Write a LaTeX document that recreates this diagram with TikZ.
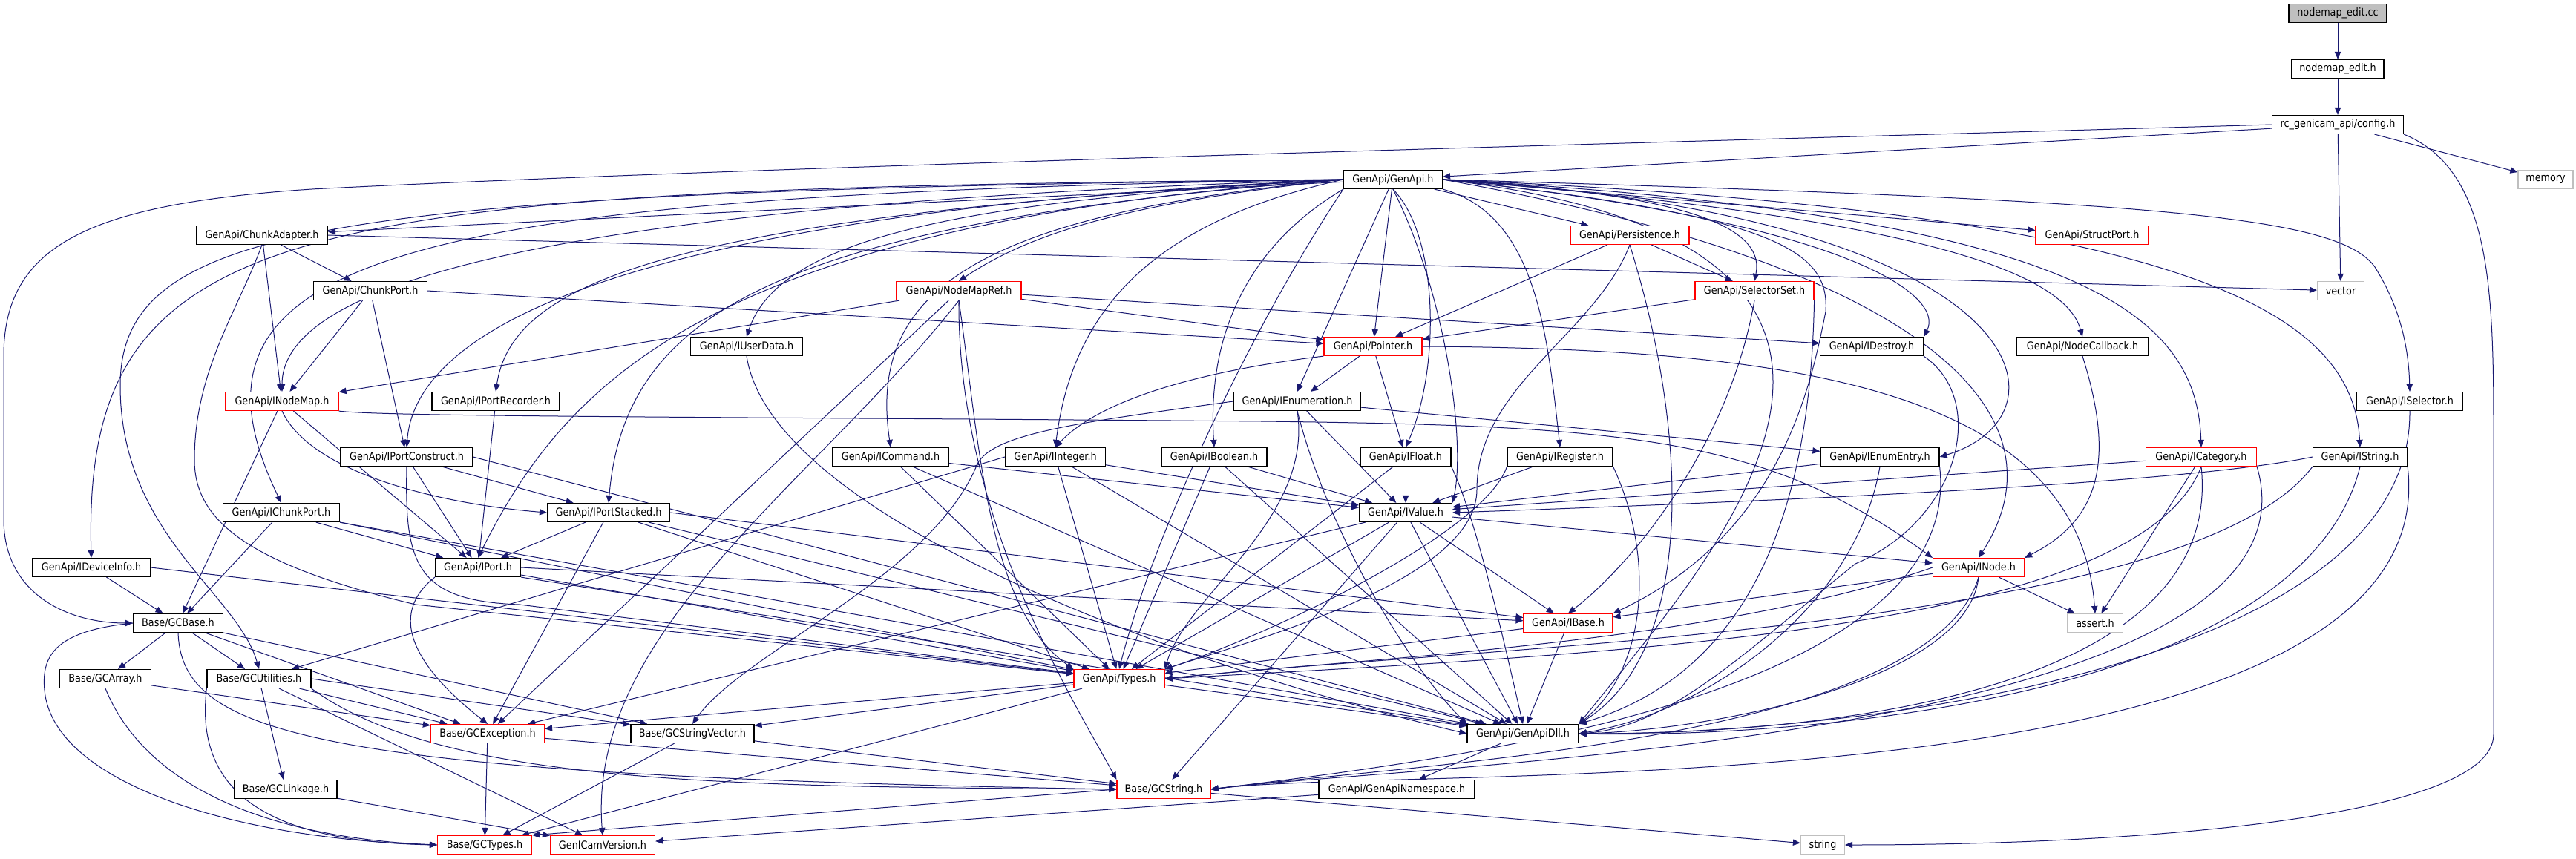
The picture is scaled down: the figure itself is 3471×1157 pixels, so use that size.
\documentclass[tikz,border=0pt]{standalone}
\usepackage{fontspec}
\newfontfamily\dxfont[FakeStretch=0.88]{DejaVu Sans}
\usetikzlibrary{arrows.meta,backgrounds}
\definecolor{edgeblue}{HTML}{191970}
\definecolor{sysgray}{HTML}{BFBFBF}

\begin{document}
\begin{tikzpicture}[
    x=0.3mm, y=-0.3mm,
    every node/.style={font=\dxfont\fontsize{12.4}{14}\selectfont},
    hdr/.style={draw=black, fill=white, line width=0.35mm, inner sep=0pt,
                minimum height=7.5mm, minimum width=#1*0.3mm},
    trunc/.style={hdr=#1, draw=red},
    sysinc/.style={hdr=#1, draw=sysgray},
    srcfile/.style={hdr=#1, fill=sysgray},
    dep/.style={draw=edgeblue, line width=0.3mm, -{Triangle[length=3mm,width=2.5mm]}},
  ]
    \useasboundingbox (0,0) rectangle (3471,1157);

    % Row positions (pixels from the top)
    \def\rowA{18}
    \def\rowB{93}
    \def\rowC{168}
    \def\rowD{242}
    \def\rowE{317}
    \def\rowF{392}
    \def\rowG{467}
    \def\rowH{541}
    \def\rowI{616}
    \def\rowJ{691}
    \def\rowK{765}
    \def\rowL{840}
    \def\rowM{915}
    \def\rowN{989}
    \def\rowO{1064}
    \def\rowP{1139}

    % Top chain
    \node[srcfile=132] (cc) at (3150,\rowA) {nodemap\_edit.cc};
    \node[hdr=124] (edith) at (3150,\rowB) {nodemap\_edit.h};
    \node[hdr=177] (config) at (3150,\rowC) {rc\_genicam\_api/config.h};
    \node[hdr=133] (genapi) at (1877,\rowD) {GenApi/GenApi.h};
    \node[sysinc=74] (memory) at (3430,\rowD) {memory};

    % GenApi headers, upper rows
    \node[hdr=177] (chunkadapter) at (353,\rowE) {GenApi/ChunkAdapter.h};
    \node[trunc=160] (persistence) at (2196,\rowE) {GenApi/Persistence.h};
    \node[trunc=152] (structport) at (2819,\rowE) {GenApi/StructPort.h};
    \node[hdr=153] (chunkport) at (499,\rowF) {GenApi/ChunkPort.h};
    \node[trunc=168] (nodemapref) at (1292,\rowF) {GenApi/NodeMapRef.h};
    \node[trunc=160] (selectorset) at (2364,\rowF) {GenApi/SelectorSet.h};
    \node[sysinc=63] (vector) at (3154,\rowF) {vector};
    \node[hdr=151] (iuserdata) at (1006,\rowG) {GenApi/IUserData.h};
    \node[trunc=132] (pointer) at (1850,\rowG) {GenApi/Pointer.h};
    \node[hdr=139] (idestroy) at (2522,\rowG) {GenApi/IDestroy.h};
    \node[hdr=177] (nodecallback) at (2806,\rowG) {GenApi/NodeCallback.h};
    \node[trunc=152] (inodemap) at (380,\rowH) {GenApi/INodeMap.h};
    \node[hdr=172] (iportrecorder) at (668,\rowH) {GenApi/IPortRecorder.h};
    \node[hdr=171] (ienumeration) at (1748,\rowH) {GenApi/IEnumeration.h};
    \node[hdr=143] (iselector) at (3247,\rowH) {GenApi/ISelector.h};

    % Interface headers
    \node[hdr=178] (iportconstruct) at (548,\rowI) {GenApi/IPortConstruct.h};
    \node[hdr=156] (icommand) at (1200,\rowI) {GenApi/ICommand.h};
    \node[hdr=135] (iinteger) at (1422,\rowI) {GenApi/IInteger.h};
    \node[hdr=142] (iboolean) at (1636,\rowI) {GenApi/IBoolean.h};
    \node[hdr=122] (ifloat) at (1894,\rowI) {GenApi/IFloat.h};
    \node[hdr=142] (iregister) at (2102,\rowI) {GenApi/IRegister.h};
    \node[hdr=160] (ienumentry) at (2533,\rowI) {GenApi/IEnumEntry.h};
    \node[trunc=149] (icategory) at (2966,\rowI) {GenApi/ICategory.h};
    \node[hdr=127] (istring) at (3180,\rowI) {GenApi/IString.h};
    \node[hdr=157] (ichunkport) at (379,\rowJ) {GenApi/IChunkPort.h};
    \node[hdr=165] (iportstacked) at (820,\rowJ) {GenApi/IPortStacked.h};
    \node[hdr=125] (ivalue) at (1894,\rowJ) {GenApi/IValue.h};
    \node[hdr=159] (ideviceinfo) at (123,\rowK) {GenApi/IDeviceInfo.h};
    \node[hdr=115] (iport) at (644,\rowK) {GenApi/IPort.h};
    \node[trunc=123] (inode) at (2666,\rowK) {GenApi/INode.h};

    % Base headers
    \node[hdr=121] (gcbase) at (240,\rowL) {Base/GCBase.h};
    \node[trunc=120] (ibase) at (2113,\rowL) {GenApi/IBase.h};
    \node[sysinc=75] (assert) at (2823,\rowL) {assert.h};
    \node[hdr=123] (gcarray) at (142,\rowM) {Base/GCArray.h};
    \node[hdr=140] (gcutilities) at (349,\rowM) {Base/GCUtilities.h};
    \node[trunc=122] (types) at (1508,\rowM) {GenApi/Types.h};
    \node[trunc=153] (gcexception) at (657,\rowN) {Base/GCException.h};
    \node[hdr=166] (gcstringvector) at (933,\rowN) {Base/GCStringVector.h};
    \node[hdr=150] (genapidll) at (2052,\rowN) {GenApi/GenApiDll.h};
    \node[hdr=138] (gclinkage) at (385,\rowO) {Base/GCLinkage.h};
    \node[trunc=126] (gcstring) at (1568,\rowO) {Base/GCString.h};
    \node[hdr=210] (namespace) at (1882,\rowO) {GenApi/GenApiNamespace.h};
    \node[trunc=127] (gctypes) at (653,\rowP) {Base/GCTypes.h};
    \node[trunc=141] (genicamversion) at (812,\rowP) {GenICamVersion.h};
    \node[sysinc=59] (string) at (2456,\rowP) {string};

    \begin{scope}[on background layer]
    % config.h
    \draw[dep] (cc) -- (edith);
    \draw[dep] (edith) -- (config);
    \draw[dep] (config) -- (genapi);
    \draw[dep] (config) -- (memory);
    \draw[dep] (config) -- (vector);
    \draw[dep] (config.south east) .. controls (3360,230) and (3360,400) .. (3360,600)
      -- (3360,990) .. controls (3360,1100) and (2900,1139) .. (string.east);
    \draw[dep] (config.west) .. controls (2300,190) and (1000,225) .. (420,255)
      .. controls (120,275) and (5,330) .. (5,480) -- (5,700)
      .. controls (5,800) and (90,840) .. (gcbase.west);

    % GenApi.h, left side
    \draw[dep] (genapi.west) .. controls (400,255) and (111,285) .. (ideviceinfo.north);
    \draw[dep] (genapi.west) .. controls (450,258) and (162,300) .. (162,520)
      .. controls (162,720) and (320,800) .. (gcutilities.north);
    \draw[dep] (genapi.west) .. controls (550,262) and (215,340) .. (ichunkport.north);
    \draw[dep] (genapi) -- (chunkadapter);
    \draw[dep] (genapi.west) .. controls (750,275) and (380,380) .. (inodemap.north);
    \draw[dep] (genapi.west) .. controls (850,285) and (560,440) .. (iportconstruct.north);
    \draw[dep] (genapi.west) .. controls (950,300) and (760,520) .. (iport.north);
    \draw[dep] (genapi.west) .. controls (1050,300) and (842,420) .. (iportstacked.north);
    \draw[dep] (genapi.west) .. controls (900,290) and (690,380) .. (iportrecorder.north);
    \draw[dep] (genapi.west) .. controls (1300,270) and (1050,320) .. (iuserdata.north);
    \draw[dep] (genapi.west) .. controls (1500,275) and (1380,320) .. (nodemapref.north);
    \draw[dep] (genapi.west) .. controls (1300,290) and (1170,400) .. (icommand.north);
    \draw[dep] (genapi.west) .. controls (1550,300) and (1445,420) .. (iinteger.north);
    \draw[dep] (genapi.south west) .. controls (1700,320) and (1625,430) .. (iboolean.north);
    \draw[dep] (genapi.south west) .. controls (1700,420) and (1560,700) .. (types.north);

    % GenApi.h, downwards and right side
    \draw[dep] (genapi) -- (ienumeration.north);
    \draw[dep] (genapi) -- (pointer);
    \draw[dep] (genapi.south) .. controls (1940,320) and (1940,500) .. (ifloat.north);
    \draw[dep] (genapi.south) .. controls (1950,400) and (1975,600) .. (ivalue.north east);
    \draw[dep] (genapi) -- (persistence);
    \draw[dep] (genapi.east) .. controls (2250,260) and (2380,300) .. (selectorset.north);
    \draw[dep] (genapi.south east) .. controls (2070,290) and (2085,450) .. (iregister.north);
    \draw[dep] (genapi.east) .. controls (2400,290) and (2465,340) .. (2460,420)
      .. controls (2440,520) and (2400,720) .. (ibase.north east);
    \draw[dep] (genapi.east) .. controls (2500,300) and (2620,400) .. (idestroy.north east);
    \draw[dep] (genapi.east) -- (structport);
    \draw[dep] (genapi.east) .. controls (2550,290) and (2780,360) .. (nodecallback.north);
    \draw[dep] (genapi.east) .. controls (2600,360) and (2790,560) .. (inode.north);
    \draw[dep] (genapi.east) .. controls (2750,290) and (2800,560) .. (ienumentry.east);
    \draw[dep] (genapi.east) .. controls (2800,290) and (2960,420) .. (icategory.north);
    \draw[dep] (genapi.east) .. controls (2950,285) and (3170,420) .. (istring.north);
    \draw[dep] (genapi.east) .. controls (2900,270) and (3150,290) .. (3200,360)
      .. controls (3225,400) and (3245,450) .. (iselector.north);
    \draw[dep] (genapi.east) .. controls (2700,330) and (2300,760) .. (genapidll.north east);

    % ChunkAdapter.h, ChunkPort.h, NodeMapRef.h
    \draw[dep] (chunkadapter) -- (chunkport);
    \draw[dep] (chunkadapter) -- (inodemap);
    \draw[dep] (chunkadapter.east) -- (vector);
    \draw[dep] (chunkadapter.south) .. controls (320,420) and (262,500) .. (262,620)
      .. controls (262,700) and (330,760) .. (560,815) -- (types);
    \draw[dep] (chunkport) -- (inodemap);
    \draw[dep] (chunkport) -- (iportconstruct);
    \draw[dep] (chunkport.east) -- (pointer);
    \draw[dep] (nodemapref) -- (inodemap);
    \draw[dep] (nodemapref) -- (pointer);
    \draw[dep] (nodemapref) -- (idestroy);
    \draw[dep] (nodemapref) -- (gcexception);
    \draw[dep] (nodemapref.south) .. controls (1100,650) and (790,850) .. (genicamversion.north);
    \draw[dep] (nodemapref.south) .. controls (1290,700) and (1450,950) .. (gcstring.north west);
    \draw[dep] (nodemapref.south) .. controls (1320,600) and (1330,820) .. (types.north west);

    % Persistence.h, SelectorSet.h, Pointer.h
    \draw[dep] (persistence) -- (pointer);
    \draw[dep] (persistence) -- (selectorset);
    \draw[dep] (persistence.south) .. controls (2150,450) and (1990,520) .. (1990,660)
      .. controls (1990,780) and (1700,860) .. (types.north east);
    \draw[dep] (persistence.south) .. controls (2280,600) and (2280,880) .. (genapidll.north east);
    \draw[dep] (selectorset) -- (pointer);
    \draw[dep] (selectorset.south) .. controls (2330,600) and (2200,760) .. (ibase.north);
    \draw[dep] (selectorset.south east) .. controls (2440,650) and (2380,900) .. (genapidll.north east);
    \draw[dep] (pointer) -- (ienumeration);
    \draw[dep] (pointer) -- (ifloat);
    \draw[dep] (pointer.south west) .. controls (1700,490) and (1500,520) .. (iinteger.north);
    \draw[dep] (pointer.east) .. controls (2400,470) and (2800,520) .. (assert.north);

    % row of IUserData.h, INodeMap.h, IEnumeration.h
    \draw[dep] (iuserdata.south) .. controls (1040,700) and (1600,900) .. (genapidll.west);
    \draw[dep] (iportrecorder) -- (iport);
    \draw[dep] (inodemap) -- (gcbase);
    \draw[dep] (inodemap) -- (iport);
    \draw[dep] (inodemap.south) .. controls (420,640) and (600,680) .. (iportstacked.west);
    \draw[dep] (inodemap.south east) .. controls (520,562) and (1000,562) .. (1700,568)
      .. controls (2200,574) and (2380,590) .. (inode.north west);
    \draw[dep] (ienumeration) -- (ivalue);
    \draw[dep] (ienumeration) -- (ienumentry);
    \draw[dep] (ienumeration.south) .. controls (1770,700) and (1600,800) .. (types.north east);
    \draw[dep] (ienumeration.south) .. controls (1790,720) and (1900,900) .. (genapidll.north west);
    \draw[dep] (ienumeration.west) .. controls (1450,570) and (1330,585) .. (1315,630)
      .. controls (1250,780) and (1000,880) .. (gcstringvector.north);
    \draw[dep] (iselector.south) .. controls (3250,900) and (2500,990) .. (genapidll.east);

    % interface row
    \draw[dep] (iportconstruct) -- (iport);
    \draw[dep] (iportconstruct) -- (iportstacked);
    \draw[dep] (iportconstruct.east) -- (genapidll);
    \draw[dep] (iportconstruct.south) .. controls (545,760) and (560,810) .. (700,815) -- (types);
    \draw[dep] (icommand) -- (ivalue);
    \draw[dep] (icommand) -- (types);
    \draw[dep] (icommand) -- (genapidll);
    \draw[dep] (iinteger) -- (ivalue);
    \draw[dep] (iinteger) -- (types);
    \draw[dep] (iinteger) -- (genapidll);
    \draw[dep] (iinteger.west) -- (gcutilities);
    \draw[dep] (iboolean) -- (ivalue);
    \draw[dep] (iboolean) -- (types);
    \draw[dep] (iboolean) -- (genapidll);
    \draw[dep] (ifloat) -- (ivalue);
    \draw[dep] (ifloat) -- (types);
    \draw[dep] (ifloat.south east) .. controls (1990,700) and (2030,880) .. (genapidll.north);
    \draw[dep] (iregister) -- (ivalue);
    \draw[dep] (iregister.south west) .. controls (2000,720) and (1700,860) .. (types.north east);
    \draw[dep] (iregister.south east) .. controls (2230,750) and (2220,900) .. (genapidll.north east);
    \draw[dep] (ienumentry) -- (ivalue);
    \draw[dep] (ienumentry.south) .. controls (2500,820) and (2300,960) .. (genapidll.east);
    \draw[dep] (ienumentry.south east) .. controls (2650,950) and (1900,1030) .. (gcstring.east);
    \draw[dep] (icategory) -- (ivalue);
    \draw[dep] (icategory) -- (assert);
    \draw[dep] (icategory.south) .. controls (2880,850) and (2200,880) .. (types.east);
    \draw[dep] (icategory.south) .. controls (3000,950) and (2400,990) .. (genapidll.east);
    \draw[dep] (icategory.south east) .. controls (3150,1000) and (1900,1030) .. (gcstring.east);
    \draw[dep] (istring.west) .. controls (3000,640) and (2700,665) .. (ivalue.east);
    \draw[dep] (istring.south west) .. controls (2950,850) and (2000,870) .. (types.east);
    \draw[dep] (istring.south) .. controls (3100,950) and (2400,995) .. (genapidll.east);
    \draw[dep] (istring.south east) .. controls (3300,1100) and (1900,1030) .. (gcstring.east);

    % IChunkPort.h, IPortStacked.h, IValue.h, IPort.h, INode.h
    \draw[dep] (ichunkport) -- (gcbase);
    \draw[dep] (ichunkport) -- (iport);
    \draw[dep] (ichunkport.south east) -- (types);
    \draw[dep] (ichunkport.south east) -- (genapidll);
    \draw[dep] (iportstacked) -- (iport);
    \draw[dep] (iportstacked) -- (gcexception);
    \draw[dep] (iportstacked) -- (types);
    \draw[dep] (iportstacked) -- (genapidll);
    \draw[dep] (iportstacked.east) -- (ibase);
    \draw[dep] (ivalue) -- (ibase);
    \draw[dep] (ivalue) -- (inode);
    \draw[dep] (ivalue) -- (types);
    \draw[dep] (ivalue) -- (genapidll);
    \draw[dep] (ivalue) -- (gcstring);
    \draw[dep] (ivalue) -- (gcexception);
    \draw[dep] (ideviceinfo) -- (gcbase);
    \draw[dep] (ideviceinfo.east) -- (types);
    \draw[dep] (iport.south west) .. controls (520,830) and (560,900) .. (gcexception.north);
    \draw[dep] (iport.east) -- (ibase);
    \draw[dep] (iport) -- (types);
    \draw[dep] (iport.south east) -- (genapidll);
    \draw[dep] (inode) -- (ibase);
    \draw[dep] (inode.west) .. controls (2300,870) and (1800,890) .. (types.east);
    \draw[dep] (inode.south) .. controls (2650,920) and (2300,985) .. (genapidll.east);
    \draw[dep] (inode) -- (assert);
    \draw[dep] (inode.south) .. controls (2600,1000) and (1900,1030) .. (gcstring.east);
    \draw[dep] (nodecallback.south) .. controls (2850,620) and (2830,700) .. (inode.north east);
    \draw[dep] (idestroy.south east) .. controls (2680,540) and (2640,700) .. (2500,760)
      .. controls (2350,880) and (2250,980) .. (genapidll.east);

    % Base headers
    \draw[dep] (gcbase) -- (gcarray);
    \draw[dep] (gcbase) -- (gcutilities);
    \draw[dep] (gcbase) -- (gcexception);
    \draw[dep] (gcbase.south east) -- (gcstringvector);
    \draw[dep] (gcbase.south) .. controls (245,990) and (420,1045) .. (gcstring.west);
    \draw[dep] (gcbase.west) .. controls (80,850) and (55,880) .. (60,930)
      .. controls (70,1050) and (300,1130) .. (gctypes.west);
    \draw[dep] (gcarray) -- (gcexception);
    \draw[dep] (gcarray.south) .. controls (200,1070) and (380,1130) .. (gctypes.west);
    \draw[dep] (gcutilities) -- (gcexception);
    \draw[dep] (gcutilities.east) -- (gcstringvector);
    \draw[dep] (gcutilities) -- (gclinkage);
    \draw[dep] (gcutilities) -- (genicamversion);
    \draw[dep] (gcutilities.south west) .. controls (260,1080) and (380,1135) .. (gctypes.west);
    \draw[dep] (gcutilities.south east) .. controls (600,1060) and (1000,1060) .. (gcstring.west);
    \draw[dep] (gclinkage) -- (genicamversion);
    \draw[dep] (types) -- (genapidll);
    \draw[dep] (types) -- (gctypes);
    \draw[dep] (types) -- (gcstringvector);
    \draw[dep] (types) -- (gcexception);
    \draw[dep] (ibase) -- (genapidll);
    \draw[dep] (ibase) -- (types);
    \draw[dep] (gcexception) -- (gctypes);
    \draw[dep] (gcexception) -- (gcstring);
    \draw[dep] (gcstringvector) -- (gctypes);
    \draw[dep] (gcstringvector) -- (gcstring);
    \draw[dep] (genapidll) -- (namespace);
    \draw[dep] (namespace) -- (genicamversion);
    \draw[dep] (gcstring.west) -- (gctypes.north east);
    \draw[dep] (gcstring) -- (string);
    \end{scope}

  \end{tikzpicture}
\end{document}
